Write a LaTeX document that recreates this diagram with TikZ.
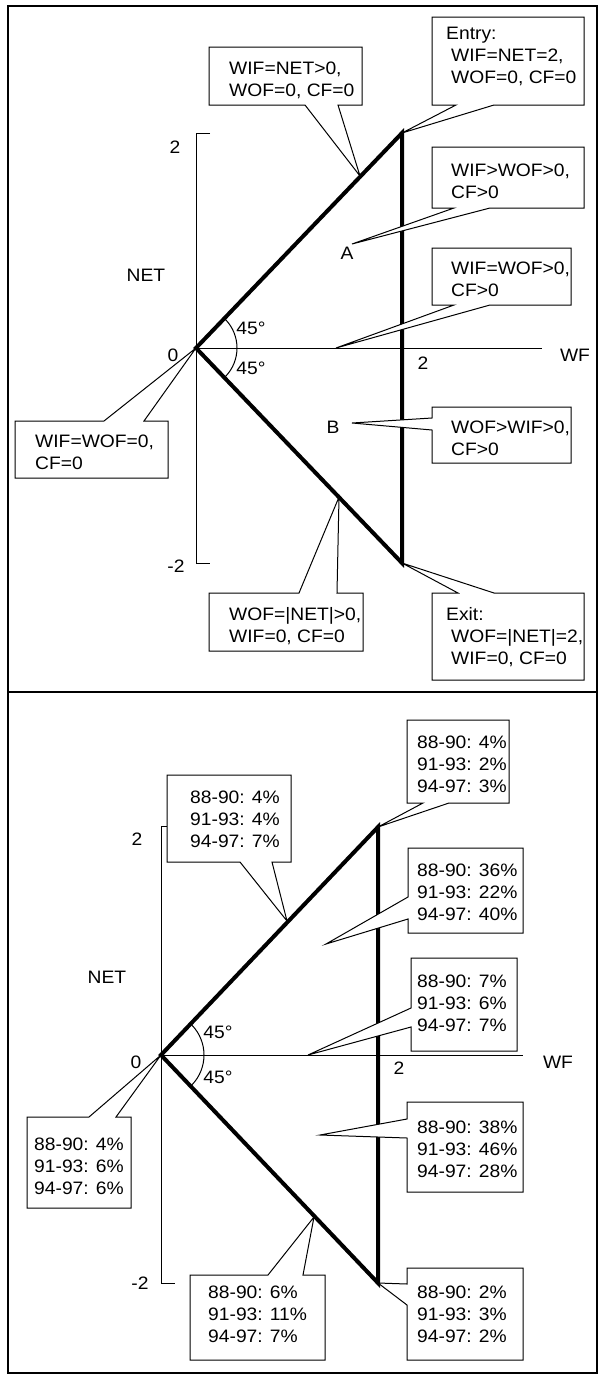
\documentclass[tikz,border=0pt]{standalone}
\usepackage{fontspec}
\setmainfont[FakeStretch=1.07]{Liberation Sans}
\newcommand\cobot[7]{\draw[cbox] (#1,#2) -- (#3,#2) -- (#3,#4) -- (#6,#4) -- (#7) -- (#5,#4) -- (#1,#4) -- cycle;}
\newcommand\cotop[7]{\draw[cbox] (#1,#2) -- (#5,#2) -- (#7) -- (#6,#2) -- (#3,#2) -- (#3,#4) -- (#1,#4) -- cycle;}
\newcommand\coleft[7]{\draw[cbox] (#1,#2) -- (#3,#2) -- (#3,#4) -- (#1,#4) -- (#1,#6) -- (#7) -- (#1,#5) -- cycle;}
\newcommand\ctx[4]{\node[ctxt] (#1) at (#2,#3-7.6) {\rule{0pt}{14pt}#4};}
\newcommand\ind{\hspace*{5pt}}
\begin{document}
\begin{tikzpicture}[x=1pt,y=-1pt,
  axis/.style={line width=1pt},
  thickline/.style={line width=4pt, line join=miter},
  frame/.style={line width=2pt},
  cbox/.style={draw=black, line width=1pt, fill=white, line join=miter},
  ctxt/.style={inner sep=0pt, align=left, anchor=north west, font=\fontsize{18}{22}\selectfont},
  lbl/.style={inner sep=0pt, font=\fontsize{18}{22}\selectfont}]
\useasboundingbox (0,0) rectangle (600,1376);
% frames
\draw[frame] (8,6) rectangle (597,692);
\draw[frame] (8,692) rectangle (597,1373);

% ===== top panel =====
\coordinate (O1) at (196,348);
\coordinate (E1) at (402,133);
\coordinate (X1) at (402,563);
\coordinate (Yt1) at (196,133);
\coordinate (Yb1) at (196,563);
\coordinate (Xr1) at (542,348);
\draw[axis] (210,133) -- (Yt1) -- (Yb1) -- (210,563);
\draw[axis] (O1) -- (Xr1);
\draw[axis] (O1) ++(-44:41) arc[start angle=-44, end angle=44, radius=41];
\draw[thickline] (O1) -- (E1) -- (X1) -- cycle;

\coordinate (tC1) at (360,176);
\coordinate (tC3) at (352,244);
\coordinate (tC4) at (336,348);
\coordinate (tC5) at (352,423);
\coordinate (tC7) at (339,497);

\cobot{209}{47}{362}{105}{305}{338}{tC1}
\ctx{nC1}{229}{68}{WIF=NET>0,\\WOF=0, CF=0}
\cobot{432}{17}{584}{105}{456}{494}{E1}
\ctx{nC2}{446}{33}{Entry:\\\ind WIF=NET=2,\\\ind WOF=0, CF=0}
\cobot{432}{147}{584}{208}{454}{490}{tC3}
\ctx{nC3}{451}{170}{WIF>WOF>0,\\CF>0}
\cobot{432}{248}{571}{305}{454}{490}{tC4}
\ctx{nC4}{451}{268}{WIF=WOF>0,\\CF>0}
\coleft{432}{407}{571}{463}{418}{430}{tC5}
\ctx{nC5}{451}{427}{WOF>WIF>0,\\CF>0}
\cotop{15}{421}{168}{478}{104}{144}{O1}
\ctx{nC6}{35}{441}{WIF=WOF=0,\\CF=0}
\cotop{209}{593}{363}{651}{299}{337}{tC7}
\ctx{nC7}{229}{614}{WOF=|NET|>0,\\WIF=0, CF=0}
\cotop{432}{593}{584}{680}{458}{494}{X1}
\ctx{nC8}{446}{614}{Exit:\\\ind WOF=|NET|=2,\\\ind WIF=0, CF=0}

\node[lbl] (l2a) at (175,147) {2};
\node[lbl] (lm2a) at (176,566) {-2};
\node[lbl] (l0a) at (173,355) {0};
\node[lbl] (lneta) at (146,275) {NET};
\node[lbl] (lwfa) at (575,355) {WF};
\node[lbl] (lx2a) at (423,363) {2};
\node[lbl] (la1) at (251,328) {45°};
\node[lbl] (la2) at (251,368) {45°};
\node[lbl] (lA) at (347,253) {A};
\node[lbl] (lB) at (333,427) {B};

% ===== bottom panel =====
\coordinate (O2) at (161,1055);
\coordinate (E2) at (378,827);
\coordinate (X2) at (378,1283);
\coordinate (Yt2) at (161,826);
\coordinate (Yb2) at (161,1283);
\coordinate (Xr2) at (523,1055);
\draw[axis] (175,826) -- (Yt2) -- (Yb2) -- (175,1283);
\draw[axis] (O2) -- (Xr2);
\draw[axis] (O2) ++(-44:43) arc[start angle=-44, end angle=44, radius=43];
\draw[thickline] (O2) -- (E2) -- (X2) -- cycle;

\coordinate (tB2) at (287,921);
\coordinate (tB3) at (326,944);
\coordinate (tB4) at (308,1055);
\coordinate (tB5) at (320,1135);
\coordinate (tB7) at (314,1217);

\cobot{407}{720}{509}{803}{423}{449}{E2}
\ctx{nB1}{417}{742}{88-90: 4\%\\91-93: 2\%\\94-97: 3\%}
\cobot{167}{775}{291}{862}{240}{272}{tB2}
\ctx{nB2}{190}{797}{88-90: 4\%\\91-93: 4\%\\94-97: 7\%}
\coleft{408}{848}{523}{933}{897}{919}{tB3}
\ctx{nB3}{417}{870}{88-90: 36\%\\91-93: 22\%\\94-97: 40\%}
\coleft{411}{958}{517}{1051}{1008}{1027}{tB4}
\ctx{nB4}{417}{981}{88-90: 7\%\\91-93: 6\%\\94-97: 7\%}
\coleft{407}{1102}{523}{1192}{1119}{1138}{tB5}
\ctx{nB5}{417}{1127}{88-90: 38\%\\91-93: 46\%\\94-97: 28\%}
\cotop{27}{1117}{131}{1208}{89}{116}{O2}
\ctx{nB6}{34}{1144}{88-90: 4\%\\91-93: 6\%\\94-97: 6\%}
\cotop{190}{1275}{325}{1360}{268}{303}{tB7}
\ctx{nB7}{208}{1292}{88-90: 6\%\\91-93: 11\%\\94-97: 7\%}
\coleft{407}{1268}{523}{1360}{1284}{1305}{X2}
\ctx{nB8}{417}{1292}{88-90: 2\%\\91-93: 3\%\\94-97: 2\%}

\node[lbl] (l2b) at (137,839) {2};
\node[lbl] (lm2b) at (140,1283) {-2};
\node[lbl] (l0b) at (136,1062) {0};
\node[lbl] (lnetb) at (107,977) {NET};
\node[lbl] (lwfb) at (558,1062) {WF};
\node[lbl] (lx2b) at (399,1068) {2};
\node[lbl] (lb1) at (218,1032) {45°};
\node[lbl] (lb2) at (218,1077) {45°};
\end{tikzpicture}
\end{document}
